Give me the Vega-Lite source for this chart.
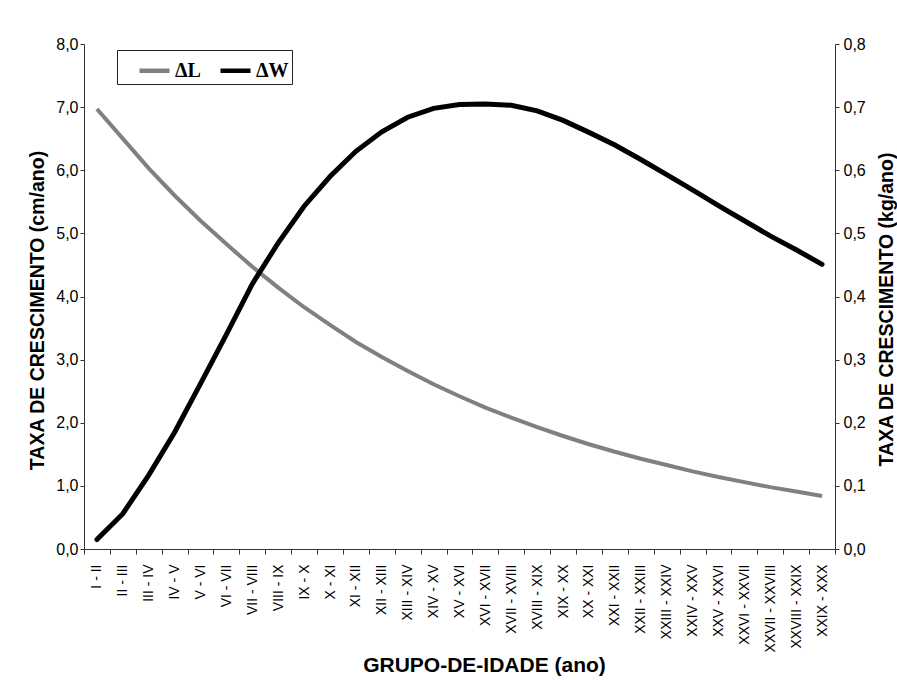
{
  "$schema": "https://vega.github.io/schema/vega-lite/v6.json",
  "autosize": {"type": "none"},
  "padding": {"left": 84, "top": 44, "right": 62, "bottom": 131},
  "width": 751,
  "height": 505,
  "background": "white",
  "config": {
    "view": {"stroke": null},
    "font": "Liberation Sans",
    "axis": {"domainColor": "#333333", "tickColor": "#333333", "labelColor": "black", "titleColor": "black", "grid": false, "labelFont": "Liberation Sans", "titleFont": "Liberation Sans"}
  },
  "data": {"values": [
    {"g": "I - II", "L": 6.97, "W": 0.015},
    {"g": "II - III", "L": 6.50, "W": 0.056},
    {"g": "III - IV", "L": 6.03, "W": 0.117},
    {"g": "IV - V", "L": 5.60, "W": 0.185},
    {"g": "V - VI", "L": 5.20, "W": 0.262},
    {"g": "VI - VII", "L": 4.83, "W": 0.340},
    {"g": "VII - VIII", "L": 4.47, "W": 0.420},
    {"g": "VIII - IX", "L": 4.14, "W": 0.485},
    {"g": "IX - X", "L": 3.83, "W": 0.543},
    {"g": "X - XI", "L": 3.55, "W": 0.590},
    {"g": "XI - XII", "L": 3.28, "W": 0.630},
    {"g": "XII - XIII", "L": 3.04, "W": 0.661},
    {"g": "XIII - XIV", "L": 2.82, "W": 0.684},
    {"g": "XIV - XV", "L": 2.61, "W": 0.698},
    {"g": "XV - XVI", "L": 2.42, "W": 0.704},
    {"g": "XVI - XVII", "L": 2.24, "W": 0.705},
    {"g": "XVII - XVIII", "L": 2.08, "W": 0.703},
    {"g": "XVIII - XIX", "L": 1.93, "W": 0.694},
    {"g": "XIX - XX", "L": 1.79, "W": 0.679},
    {"g": "XX - XXI", "L": 1.66, "W": 0.660},
    {"g": "XXI - XXII", "L": 1.54, "W": 0.640},
    {"g": "XXII - XXIII", "L": 1.43, "W": 0.617},
    {"g": "XXIII - XXIV", "L": 1.33, "W": 0.593},
    {"g": "XXIV - XXV", "L": 1.23, "W": 0.569},
    {"g": "XXV - XXVI", "L": 1.14, "W": 0.544},
    {"g": "XXVI - XXVII", "L": 1.06, "W": 0.520},
    {"g": "XXVII - XXVIII", "L": 0.98, "W": 0.496},
    {"g": "XXVIII - XXIX", "L": 0.91, "W": 0.474},
    {"g": "XXIX - XXX", "L": 0.84, "W": 0.451}
  ]},
  "encoding": {
    "x": {
      "field": "g",
      "type": "ordinal",
      "sort": null,
      "bandPosition": 0.5,
      "scale": {"type": "band", "paddingInner": 0, "paddingOuter": 0},
      "axis": {
        "title": "GRUPO-DE-IDADE (ano)",
        "titleFontSize": 21,
        "titleFontWeight": "bold",
        "titleX": 400,
        "titleY": 116,
        "titleAlign": "center",
        "titleBaseline": "middle",
        "labelAngle": -90,
        "labelFontSize": 14,
        "labelPadding": 10,
        "tickBand": "extent",
        "tickSize": 5,
        "labelBound": false,
        "labelOverlap": false
      }
    }
  },
  "layer": [
    {
      "mark": {"type": "line", "strokeWidth": 4, "strokeCap": "butt"},
      "encoding": {
        "y": {
          "field": "L",
          "type": "quantitative",
          "scale": {"domain": [0, 8], "nice": false},
          "axis": {
            "orient": "left",
            "title": "TAXA DE CRESCIMENTO (cm/ano)",
            "titleFontSize": 19.5,
            "titleFontWeight": "bold",
            "titlePadding": 8,
            "titleY": 266,
            "titleAlign": "center",
            "values": [0, 1, 2, 3, 4, 5, 6, 7, 8],
            "labelExpr": "replace(format(datum.value, '.1f'), '.', ',')",
            "labelFontSize": 16,
            "labelPadding": 2,
            "tickSize": 4
          }
        },
        "color": {
          "datum": "ΔL",
          "type": "nominal",
          "scale": {"domain": ["ΔL", "ΔW"], "range": ["#808080", "#000000"]},
          "legend": {
            "title": null,
            "orient": "none",
            "legendX": 33,
            "legendY": 6,
            "direction": "horizontal",
            "strokeColor": "#222222",
            "fillColor": "white",
            "padding": 3,
            "symbolOffset": 17,
            "symbolType": "stroke",
            "symbolStrokeWidth": 4.5,
            "symbolSize": 900,
            "labelFont": "Liberation Serif",
            "labelFontWeight": "bold",
            "labelFontSize": 20,
            "labelColor": "black",
            "labelOffset": 3,
            "columnPadding": 0
          }
        }
      }
    },
    {
      "mark": {"type": "line", "strokeWidth": 5, "strokeCap": "round"},
      "encoding": {
        "y": {
          "field": "W",
          "type": "quantitative",
          "scale": {"domain": [0, 0.8], "nice": false},
          "axis": {
            "orient": "right",
            "title": "TAXA DE CRESCIMENTO (kg/ano)",
            "titleFontSize": 19.5,
            "titleFontWeight": "bold",
            "titleAngle": -90,
            "titlePadding": 31,
            "titleY": 265,
            "titleAlign": "center",
            "values": [0, 0.1, 0.2, 0.3, 0.4, 0.5, 0.6, 0.7, 0.8],
            "labelExpr": "replace(format(datum.value, '.1f'), '.', ',')",
            "labelFontSize": 16,
            "labelPadding": 4,
            "tickSize": 4
          }
        },
        "color": {"datum": "ΔW", "type": "nominal"}
      }
    }
  ],
  "resolve": {"scale": {"y": "independent"}}
}
